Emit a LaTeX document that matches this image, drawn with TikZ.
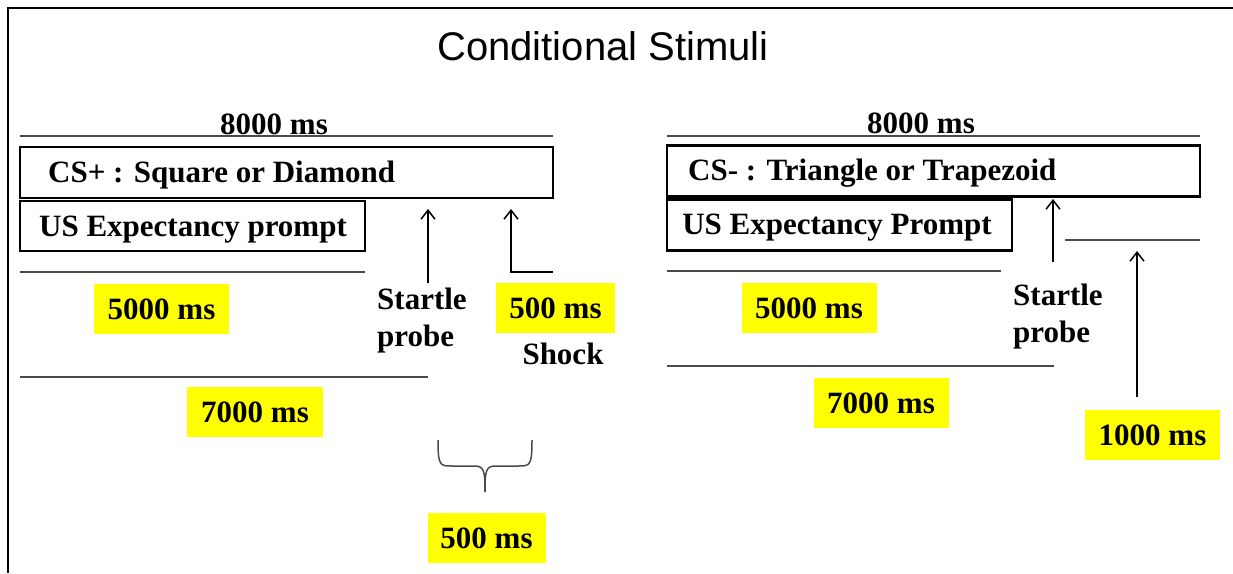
\documentclass[tikz,border=0pt]{standalone}
\usepackage{fontspec}
\setmainfont{Liberation Serif}
\newfontfamily\titlefont{Liberation Sans}
\usetikzlibrary{arrows.meta}
\definecolor{hl}{HTML}{FFFF00}
\definecolor{ln}{HTML}{4A4A4A}
\tikzset{
  lbl/.style={font=\bfseries\fontsize{31}{37}\selectfont, inner sep=0pt},
  stimbox/.style={draw=black, line width=2.6pt, inner sep=0pt},
  hlbox/.style={fill=hl, inner sep=0pt, font=\bfseries\fontsize{31}{37}\selectfont},
  tline/.style={draw=ln, line width=2pt},
  uparrow/.style={draw=black, line width=1.5pt, -{Straight Barb[length=9pt,width=14pt,line width=1.5pt]}},
  brace/.style={draw=ln, line width=1.5pt},
  frame/.style={draw=black, line width=2.2pt}
}
\begin{document}
\begin{tikzpicture}[x=1pt,y=-1pt]
\useasboundingbox (0,0) rectangle (1233,573);
% frame
\coordinate (ftl) at (8,8);
\coordinate (ftr) at (1233,8);
\coordinate (fbl) at (8,573);
\draw[frame] (ftr) -- (ftl) -- (fbl);
% title
\node[font=\titlefont\fontsize{40}{46}\selectfont, inner sep=0pt] (title) at (603,46) {Conditional Stimuli};

% ===== LEFT =====
\node[lbl] (l8000) at (274,124) {8000 ms};
\coordinate (l8a) at (20,136); \coordinate (l8b) at (553,136);
\draw[tline] (l8a) -- (l8b);
\node[stimbox, minimum width=533pt, minimum height=51pt] (csp) at (286.5,172.5) {};
\node[lbl, anchor=west] (csptext) at (48,175) {CS+ : Square or Diamond};
\node[stimbox, minimum width=345pt, minimum height=50pt] (lus) at (192.5,226) {};
\node[lbl] (lustext) at (193,230) {US Expectancy prompt};
\coordinate (l5a) at (20,272); \coordinate (l5b) at (365,272);
\draw[tline] (l5a) -- (l5b);
\node[hlbox, minimum width=135pt, minimum height=50pt] (l5000) at (161.5,309) {5000 ms};
% startle arrow
\coordinate (lsa0) at (428,283); \coordinate (lsa1) at (428,209);
\draw[uparrow] (lsa0) -- (lsa1);
\node[lbl, anchor=west, align=left] (lstartle) at (377,321) {Startle\\probe};
% shock arrow
\coordinate (lsh0) at (553,272); \coordinate (lsh1) at (511,272); \coordinate (lsh2) at (511,209);
\draw[uparrow] (lsh0) -- (lsh1) -- (lsh2);
\node[hlbox, minimum width=119pt, minimum height=50pt] (l500) at (555.5,308) {500 ms};
\node[lbl] (shock) at (563,354) {Shock};
\coordinate (l7a) at (20,377); \coordinate (l7b) at (428,377);
\draw[tline] (l7a) -- (l7b);
\node[hlbox, minimum width=136pt, minimum height=50pt] (l7000) at (255,412) {7000 ms};
% brace
\coordinate (bl) at (438,440); \coordinate (br) at (532,440); \coordinate (bt) at (485,492);
\draw[brace] (bl) .. controls (438,466) and (440,466) .. (452,466) -- (474,466)
   .. controls (484,466) and (485,470) .. (bt);
\draw[brace] (br) .. controls (532,466) and (530,466) .. (518,466) -- (496,466)
   .. controls (486,466) and (485,470) .. (bt);
\node[hlbox, minimum width=118pt, minimum height=50pt] (b500) at (486.5,538) {500 ms};

% ===== RIGHT =====
\node[lbl] (r8000) at (921,123) {8000 ms};
\coordinate (r8a) at (667,136); \coordinate (r8b) at (1200,136);
\draw[tline] (r8a) -- (r8b);
\node[stimbox, minimum width=533pt, minimum height=51pt] (csm) at (933.5,171) {};
\node[lbl, anchor=west] (csmtext) at (688,173) {CS- : Triangle or Trapezoid};
\node[stimbox, minimum width=345pt, minimum height=51pt] (rus) at (839.5,225) {};
\node[lbl] (rustext) at (837,228) {US Expectancy Prompt};
\coordinate (rsa0) at (1053,262); \coordinate (rsa1) at (1053,199);
\draw[uparrow] (rsa0) -- (rsa1);
\coordinate (r1a) at (1065,240); \coordinate (r1b) at (1200,240);
\draw[tline] (r1a) -- (r1b);
\coordinate (r5a) at (667,271); \coordinate (r5b) at (1001,271);
\draw[tline] (r5a) -- (r5b);
\node[hlbox, minimum width=135pt, minimum height=50pt] (r5000) at (809,308) {5000 ms};
\node[lbl, anchor=west, align=left] (rstartle) at (1013,317) {Startle\\probe};
\coordinate (r7a) at (667,366); \coordinate (r7b) at (1054,366);
\draw[tline] (r7a) -- (r7b);
\node[hlbox, minimum width=135pt, minimum height=50pt] (r7000) at (881,403) {7000 ms};
\coordinate (ra0) at (1137,397); \coordinate (ra1) at (1137,251);
\draw[uparrow] (ra0) -- (ra1);
\node[hlbox, minimum width=135pt, minimum height=50pt] (r1000) at (1152.5,435) {1000 ms};
\end{tikzpicture}
\end{document}
